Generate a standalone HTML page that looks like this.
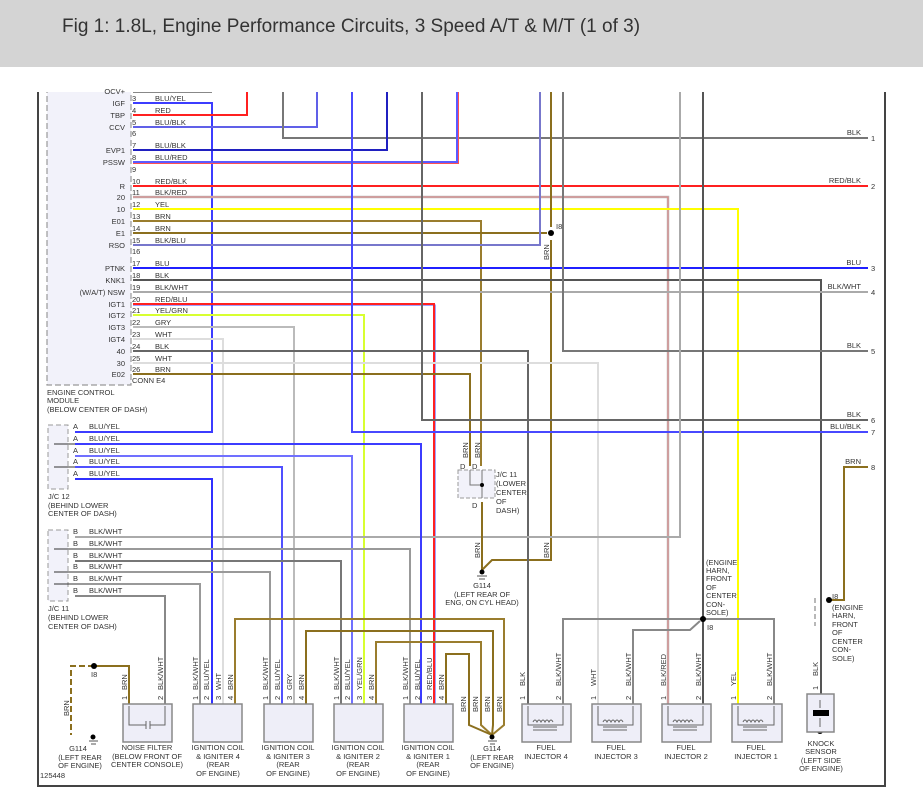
<!DOCTYPE html>
<html><head><meta charset="utf-8"><style>
html,body{margin:0;padding:0;background:#fff;}
body{width:923px;height:807px;overflow:hidden;position:relative;font-family:"Liberation Sans",sans-serif;}
#hdr{position:absolute;left:0;top:0;width:923px;height:67px;background:#d4d4d4;}
#hdr span{position:absolute;left:62px;top:16px;font-size:19px;color:#333;}
svg{position:absolute;left:0;top:0;}
svg text{font-family:"Liberation Sans",sans-serif;font-size:7.5px;fill:#333;}
</style></head><body>
<div id="hdr"><span>Fig 1: 1.8L, Engine Performance Circuits, 3 Speed A/T &amp; M/T (1 of 3)</span></div>
<svg width="923" height="807" viewBox="0 0 923 807">
<defs><clipPath id="c"><rect x="0" y="92" width="923" height="715"/></clipPath></defs>
<g clip-path="url(#c)" fill="none" stroke-width="2" stroke-linejoin="miter">
<!-- frame -->
<path d="M38 88V786H885V88" stroke="#444" stroke-width="2"/>
<!-- ECM box -->
<rect x="47" y="80" width="84" height="305" fill="#f2f2fa" stroke="#999" stroke-width="1.2" stroke-dasharray="6,3"/>
<path d="M133 92H212" stroke="#888"/>
<!-- ECM wires -->
<path d="M133 103H212V432H75" stroke="#3c3cff"/>
<path d="M133 115H247V80" stroke="#ff2020"/>
<path d="M133 127H317V80" stroke="#6060e8"/>
<path d="M283 80V138H868" stroke="#777"/>
<path d="M133 150H387V80" stroke="#2020c0"/>
<path d="M133 163H458V80" stroke="#ff5050"/>
<path d="M133 162H457V80" stroke="#5a5aff"/>
<path d="M133 186H868" stroke="#ff2020"/>
<path d="M133 197H668V704" stroke="#bbb" stroke-width="2.5"/>
<path d="M133 197H668V704" stroke="#e08080" stroke-width="1"/>
<path d="M133 209H738V704" stroke="#ffff00"/>
<path d="M133 221H481V466" stroke="#9a7d2e"/>
<path d="M133 233H547" stroke="#8b6f1e"/>
<path d="M551 80V227M551 240V560H492L482 570" stroke="#8b6f1e"/>
<path d="M133 245H540V80" stroke="#7777cc"/>
<path d="M133 268H868" stroke="#2020ff"/>
<path d="M133 280H821V694" stroke="#555"/>
<path d="M133 292H868" stroke="#aaa"/>
<path d="M133 305H435V704" stroke="#4040ff" stroke-width="1"/>
<path d="M133 304H434V704" stroke="#ff2020"/>
<path d="M133 315H364V704" stroke="#d8ff30"/>
<path d="M133 327H294V704" stroke="#bbb"/>
<path d="M133 339H223V704" stroke="#ddd"/>
<path d="M133 351H528V704" stroke="#666"/>
<path d="M133 363H598V704" stroke="#ddd"/>
<path d="M133 374H470V466" stroke="#8b6f1e"/>
<path d="M352 80V432H868" stroke="#4848ff"/>
<path d="M422 80V420H868" stroke="#666"/>
<path d="M563 80V351H868" stroke="#777"/>
<path d="M680 80V537H75" stroke="#aaa"/>
<path d="M703 80V704" stroke="#555"/>
<path d="M868 467H844V600H829" stroke="#8b6f1e"/>
<!-- JC12 -->
<path d="M75 444H421V704" stroke="#3c3cff"/>
<path d="M75 456H352V704" stroke="#7070ff"/>
<path d="M75 467H282V704" stroke="#5050ff"/>
<path d="M75 479H212V704" stroke="#3030ff"/>
<!-- JC11 B -->
<path d="M75 549H410V704" stroke="#999"/>
<path d="M75 561H341V704" stroke="#777"/>
<path d="M75 572H270V704" stroke="#999"/>
<path d="M75 584H200V704" stroke="#999"/>
<path d="M75 596H165V704" stroke="#888"/>
<!-- coil grounds -->
<path d="M235 704V619H504V725L492 735" stroke="#9a7d2e"/>
<path d="M306 704V631H493V725L492 735" stroke="#8b6f1e"/>
<path d="M376 704V642H481V725L492 735" stroke="#9a7d2e"/>
<path d="M446 704V654H469V725L492 735" stroke="#8b6f1e"/>
<!-- noise filter ground -->
<path d="M129 704V666H94" stroke="#8b6f1e"/>
<path d="M94 666H71V735" stroke="#8b6f1e" stroke-dasharray="6,3"/>
<!-- JC11 D -->
<rect x="458" y="470" width="37" height="28" fill="#f2f2fa" stroke="#999" stroke-width="1" stroke-dasharray="4,2"/>
<path d="M470 470V485H482M482 470V498" stroke="#777" stroke-width="1"/>
<path d="M482 502V570" stroke="#8b6f1e"/>
<!-- injector bus -->
<path d="M563 704V619H774V704" stroke="#888"/>
<path d="M700 621L690 630H633V704" stroke="#888"/>
<!-- knock i8 bracket -->
<path d="M815 598V626" stroke="#888" stroke-width="1.2" stroke-dasharray="5,3"/>
</g>
<!-- dots -->
<g fill="#000">
<circle cx="551" cy="233" r="3"/><circle cx="94" cy="666" r="3"/><circle cx="482" cy="485" r="2"/>
<circle cx="703" cy="619" r="3"/><circle cx="829" cy="600" r="3"/><circle cx="820" cy="731" r="3"/>
<circle cx="482" cy="572" r="2.5"/><circle cx="492" cy="737" r="2.5"/><circle cx="93" cy="737" r="2.5"/>
</g>
<g stroke="#555" stroke-width="1">
<path d="M477 576h10M479 579h6M488 741h9M490 744h5M89 741h9M91 744h5"/>
</g>
<!-- JC boxes -->
<rect x="48" y="425" width="20" height="64" fill="#f2f2fa" stroke="#999" stroke-width="1" stroke-dasharray="5,3"/>
<rect x="48" y="530" width="20" height="71" fill="#f2f2fa" stroke="#999" stroke-width="1" stroke-dasharray="5,3"/>
<path d="M54 444H75M54 467H75M54 549H75M54 572H75M54 584H75" stroke="#333" stroke-width="1"/>
<!-- component boxes -->
<g fill="#eeeef8" stroke="#888" stroke-width="1.5">
<rect x="123" y="704" width="49" height="38"/>
<rect x="193" y="704" width="49" height="38"/>
<rect x="264" y="704" width="49" height="38"/>
<rect x="334" y="704" width="49" height="38"/>
<rect x="404" y="704" width="49" height="38"/>
<rect x="522" y="704" width="49" height="38"/>
<rect x="592" y="704" width="49" height="38"/>
<rect x="662" y="704" width="49" height="38"/>
<rect x="732" y="704" width="50" height="38"/>
<rect x="807" y="694" width="27" height="38"/>
</g>
<rect x="813" y="710" width="16" height="6" fill="#000"/>
<g stroke="#666" stroke-width="1" fill="none">
<path d="M129 706V725H146M150 725H165V706M146 721V729M150 721V729"/>
<path d="M528 706V725H563V706M533 722q2-4 4 0q2-4 4 0q2-4 4 0q2-4 4 0q2-4 4 0M533 727H557M533 730H557"/>
<path d="M598 706V725H633V706M603 722q2-4 4 0q2-4 4 0q2-4 4 0q2-4 4 0q2-4 4 0M603 727H627M603 730H627"/>
<path d="M668 706V725H703V706M673 722q2-4 4 0q2-4 4 0q2-4 4 0q2-4 4 0q2-4 4 0M673 727H697M673 730H697"/>
<path d="M738 706V725H774V706M743 722q2-4 4 0q2-4 4 0q2-4 4 0q2-4 4 0q2-4 4 0M743 727H767M743 730H767"/>
<path d="M820 700V708M820 718V727"/>
</g>
<!-- ECM text -->
<g text-anchor="end">
<text x="125" y="94">OCV+</text>
<text x="125" y="106">IGF</text><text x="125" y="118">TBP</text><text x="125" y="130">CCV</text>
<text x="125" y="153">EVP1</text><text x="125" y="165">PSSW</text>
<text x="125" y="189">R</text><text x="125" y="200">20</text><text x="125" y="212">10</text>
<text x="125" y="224">E01</text><text x="125" y="236">E1</text><text x="125" y="248">RSO</text>
<text x="125" y="271">PTNK</text><text x="125" y="283">KNK1</text><text x="125" y="295">(W/A/T)  NSW</text>
<text x="125" y="307">IGT1</text><text x="125" y="318">IGT2</text><text x="125" y="330">IGT3</text>
<text x="125" y="342">IGT4</text><text x="125" y="354">40</text><text x="125" y="366">30</text><text x="125" y="377">E02</text>
</g>
<g>
<text x="132" y="101">3</text><text x="155" y="101">BLU/YEL</text>
<text x="132" y="113">4</text><text x="155" y="113">RED</text>
<text x="132" y="125">5</text><text x="155" y="125">BLU/BLK</text>
<text x="132" y="136">6</text>
<text x="132" y="148">7</text><text x="155" y="148">BLU/BLK</text>
<text x="132" y="160">8</text><text x="155" y="160">BLU/RED</text>
<text x="132" y="172">9</text>
<text x="132" y="184">10</text><text x="155" y="184">RED/BLK</text>
<text x="132" y="195">11</text><text x="155" y="195">BLK/RED</text>
<text x="132" y="207">12</text><text x="155" y="207">YEL</text>
<text x="132" y="219">13</text><text x="155" y="219">BRN</text>
<text x="132" y="231">14</text><text x="155" y="231">BRN</text>
<text x="132" y="243">15</text><text x="155" y="243">BLK/BLU</text>
<text x="132" y="254">16</text>
<text x="132" y="266">17</text><text x="155" y="266">BLU</text>
<text x="132" y="278">18</text><text x="155" y="278">BLK</text>
<text x="132" y="290">19</text><text x="155" y="290">BLK/WHT</text>
<text x="132" y="302">20</text><text x="155" y="302">RED/BLU</text>
<text x="132" y="313">21</text><text x="155" y="313">YEL/GRN</text>
<text x="132" y="325">22</text><text x="155" y="325">GRY</text>
<text x="132" y="337">23</text><text x="155" y="337">WHT</text>
<text x="132" y="349">24</text><text x="155" y="349">BLK</text>
<text x="132" y="361">25</text><text x="155" y="361">WHT</text>
<text x="132" y="372">26</text><text x="155" y="372">BRN</text>
<text x="132" y="383">CONN E4</text>
<text x="47" y="395">ENGINE CONTROL</text><text x="47" y="403">MODULE</text><text x="47" y="412">(BELOW CENTER OF DASH)</text>
<text x="73" y="429">A</text><text x="89" y="429">BLU/YEL</text>
<text x="73" y="441">A</text><text x="89" y="441">BLU/YEL</text>
<text x="73" y="453">A</text><text x="89" y="453">BLU/YEL</text>
<text x="73" y="464">A</text><text x="89" y="464">BLU/YEL</text>
<text x="73" y="476">A</text><text x="89" y="476">BLU/YEL</text>
<text x="48" y="499">J/C 12</text><text x="48" y="508">(BEHIND LOWER</text><text x="48" y="516">CENTER OF DASH)</text>
<text x="73" y="534">B</text><text x="89" y="534">BLK/WHT</text>
<text x="73" y="546">B</text><text x="89" y="546">BLK/WHT</text>
<text x="73" y="558">B</text><text x="89" y="558">BLK/WHT</text>
<text x="73" y="569">B</text><text x="89" y="569">BLK/WHT</text>
<text x="73" y="581">B</text><text x="89" y="581">BLK/WHT</text>
<text x="73" y="593">B</text><text x="89" y="593">BLK/WHT</text>
<text x="48" y="611">J/C 11</text><text x="48" y="620">(BEHIND LOWER</text><text x="48" y="629">CENTER OF DASH)</text>
<text x="556" y="229">I8</text>
<text x="460" y="469">D</text><text x="472" y="469">D</text><text x="472" y="508">D</text>
<text x="496" y="477">J/C 11</text><text x="496" y="486">(LOWER</text><text x="496" y="495">CENTER</text><text x="496" y="504">OF</text><text x="496" y="513">DASH)</text>
<text x="706" y="565">(ENGINE</text><text x="706" y="573">HARN,</text><text x="706" y="581">FRONT</text><text x="706" y="590">OF</text><text x="706" y="598">CENTER</text><text x="706" y="607">CON-</text><text x="706" y="615">SOLE)</text>
<text x="707" y="630">I8</text>
<text x="832" y="599">I8</text>
<text x="832" y="610">(ENGINE</text><text x="832" y="618">HARN,</text><text x="832" y="627">FRONT</text><text x="832" y="635">OF</text><text x="832" y="644">CENTER</text><text x="832" y="652">CON-</text><text x="832" y="661">SOLE)</text>
<text x="91" y="677">I8</text>
<text x="40" y="778">125448</text>
</g>
<!-- right side labels -->
<g text-anchor="end">
<text x="861" y="135">BLK</text><text x="861" y="183">RED/BLK</text><text x="861" y="265">BLU</text>
<text x="861" y="289">BLK/WHT</text><text x="861" y="348">BLK</text><text x="861" y="417">BLK</text>
<text x="861" y="429">BLU/BLK</text><text x="861" y="464">BRN</text>
</g>
<g>
<text x="871" y="141">1</text><text x="871" y="189">2</text><text x="871" y="271">3</text><text x="871" y="295">4</text>
<text x="871" y="354">5</text><text x="871" y="423">6</text><text x="871" y="435">7</text><text x="871" y="470">8</text>
</g>
<!-- centered labels -->
<g text-anchor="middle">
<text x="482" y="588">G114</text><text x="482" y="597">(LEFT REAR OF</text><text x="482" y="605">ENG, ON CYL HEAD)</text>
<text x="78" y="751">G114</text><text x="80" y="760">(LEFT REAR</text><text x="80" y="768">OF ENGINE)</text>
<text x="147" y="750">NOISE FILTER</text><text x="147" y="759">(BELOW FRONT OF</text><text x="147" y="767">CENTER CONSOLE)</text>
<text x="218" y="750">IGNITION COIL</text><text x="218" y="759">&amp; IGNITER 4</text><text x="218" y="767">(REAR</text><text x="218" y="776">OF ENGINE)</text>
<text x="288" y="750">IGNITION COIL</text><text x="288" y="759">&amp; IGNITER 3</text><text x="288" y="767">(REAR</text><text x="288" y="776">OF ENGINE)</text>
<text x="358" y="750">IGNITION COIL</text><text x="358" y="759">&amp; IGNITER 2</text><text x="358" y="767">(REAR</text><text x="358" y="776">OF ENGINE)</text>
<text x="428" y="750">IGNITION COIL</text><text x="428" y="759">&amp; IGNITER 1</text><text x="428" y="767">(REAR</text><text x="428" y="776">OF ENGINE)</text>
<text x="492" y="751">G114</text><text x="492" y="760">(LEFT REAR</text><text x="492" y="768">OF ENGINE)</text>
<text x="546" y="750">FUEL</text><text x="546" y="759">INJECTOR 4</text>
<text x="616" y="750">FUEL</text><text x="616" y="759">INJECTOR 3</text>
<text x="686" y="750">FUEL</text><text x="686" y="759">INJECTOR 2</text>
<text x="756" y="750">FUEL</text><text x="756" y="759">INJECTOR 1</text>
<text x="821" y="746">KNOCK</text><text x="821" y="754">SENSOR</text><text x="821" y="763">(LEFT SIDE</text><text x="821" y="771">OF ENGINE)</text>
</g>
<!-- rotated labels -->
<g>
<text transform="translate(468,458) rotate(-90)">BRN</text>
<text transform="translate(480,458) rotate(-90)">BRN</text>
<text transform="translate(549,260) rotate(-90)">BRN</text>
<text transform="translate(480,558) rotate(-90)">BRN</text>
<text transform="translate(549,558) rotate(-90)">BRN</text>
<text transform="translate(69,716) rotate(-90)">BRN</text>
<text transform="translate(127,690) rotate(-90)">BRN</text><text transform="translate(127,700) rotate(-90)">1</text>
<text transform="translate(163,690) rotate(-90)">BLK/WHT</text><text transform="translate(163,700) rotate(-90)">2</text>
<text transform="translate(198,690) rotate(-90)">BLK/WHT</text><text transform="translate(198,700) rotate(-90)">1</text>
<text transform="translate(209,690) rotate(-90)">BLU/YEL</text><text transform="translate(209,700) rotate(-90)">2</text>
<text transform="translate(221,690) rotate(-90)">WHT</text><text transform="translate(221,700) rotate(-90)">3</text>
<text transform="translate(233,690) rotate(-90)">BRN</text><text transform="translate(233,700) rotate(-90)">4</text>
<text transform="translate(268,690) rotate(-90)">BLK/WHT</text><text transform="translate(268,700) rotate(-90)">1</text>
<text transform="translate(280,690) rotate(-90)">BLU/YEL</text><text transform="translate(280,700) rotate(-90)">2</text>
<text transform="translate(292,690) rotate(-90)">GRY</text><text transform="translate(292,700) rotate(-90)">3</text>
<text transform="translate(304,690) rotate(-90)">BRN</text><text transform="translate(304,700) rotate(-90)">4</text>
<text transform="translate(339,690) rotate(-90)">BLK/WHT</text><text transform="translate(339,700) rotate(-90)">1</text>
<text transform="translate(350,690) rotate(-90)">BLU/YEL</text><text transform="translate(350,700) rotate(-90)">2</text>
<text transform="translate(362,690) rotate(-90)">YEL/GRN</text><text transform="translate(362,700) rotate(-90)">3</text>
<text transform="translate(374,690) rotate(-90)">BRN</text><text transform="translate(374,700) rotate(-90)">4</text>
<text transform="translate(408,690) rotate(-90)">BLK/WHT</text><text transform="translate(408,700) rotate(-90)">1</text>
<text transform="translate(420,690) rotate(-90)">BLU/YEL</text><text transform="translate(420,700) rotate(-90)">2</text>
<text transform="translate(432,690) rotate(-90)">RED/BLU</text><text transform="translate(432,700) rotate(-90)">3</text>
<text transform="translate(444,690) rotate(-90)">BRN</text><text transform="translate(444,700) rotate(-90)">4</text>
<text transform="translate(466,712) rotate(-90)">BRN</text>
<text transform="translate(478,712) rotate(-90)">BRN</text>
<text transform="translate(490,712) rotate(-90)">BRN</text>
<text transform="translate(502,712) rotate(-90)">BRN</text>
<text transform="translate(525,686) rotate(-90)">BLK</text><text transform="translate(525,700) rotate(-90)">1</text>
<text transform="translate(561,686) rotate(-90)">BLK/WHT</text><text transform="translate(561,700) rotate(-90)">2</text>
<text transform="translate(596,686) rotate(-90)">WHT</text><text transform="translate(596,700) rotate(-90)">1</text>
<text transform="translate(631,686) rotate(-90)">BLK/WHT</text><text transform="translate(631,700) rotate(-90)">2</text>
<text transform="translate(666,686) rotate(-90)">BLK/RED</text><text transform="translate(666,700) rotate(-90)">1</text>
<text transform="translate(701,686) rotate(-90)">BLK/WHT</text><text transform="translate(701,700) rotate(-90)">2</text>
<text transform="translate(736,686) rotate(-90)">YEL</text><text transform="translate(736,700) rotate(-90)">1</text>
<text transform="translate(772,686) rotate(-90)">BLK/WHT</text><text transform="translate(772,700) rotate(-90)">2</text>
<text transform="translate(818,676) rotate(-90)">BLK</text><text transform="translate(818,690) rotate(-90)">1</text>
</g>
</svg>
</body></html>
